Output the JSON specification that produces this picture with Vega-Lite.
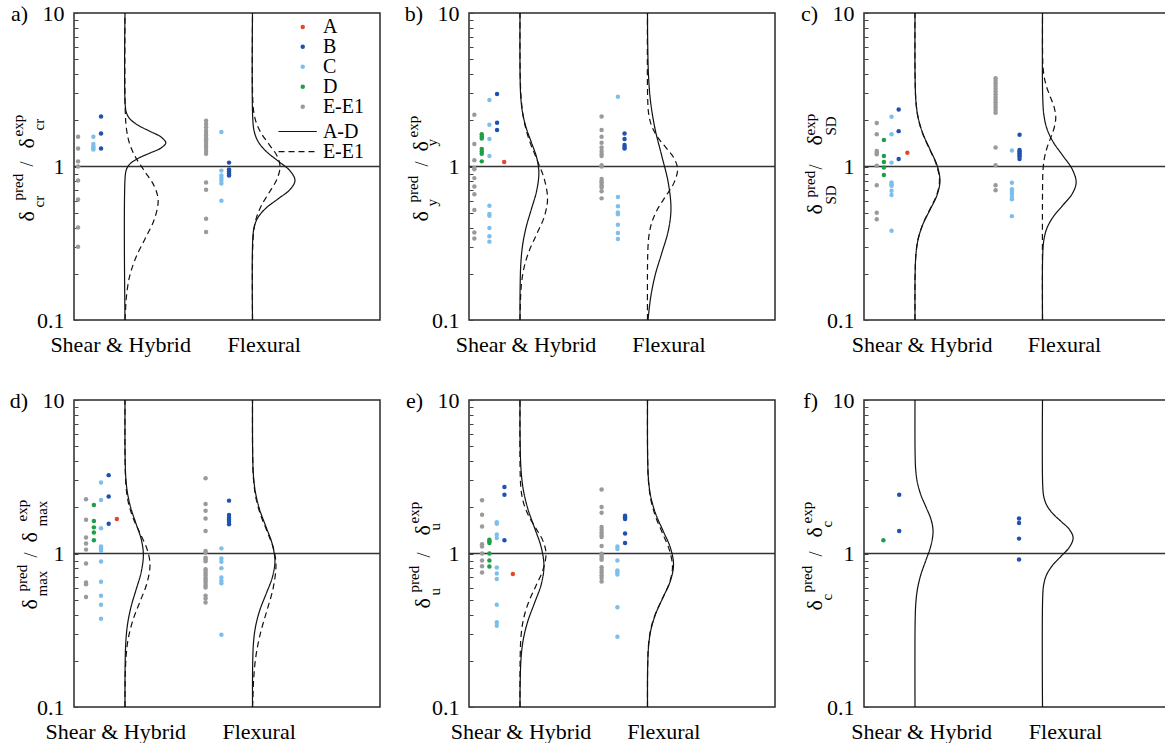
{
"$schema": "https://vega.github.io/schema/vega-lite/v6.json",
"padding": {"left": 8, "top": 1, "right": 0, "bottom": 0},
"config": {
 "font": "Liberation Serif",
 "view": {"stroke": "#2a2a2a", "strokeWidth": 1.5},
 "axis": {"labelFont": "Liberation Serif", "labelFontSize": 22, "labelColor": "#000", "domain": false, "grid": false, "labelFlush": false, "labelOverlap": false},
 "axisX": {"ticks": false, "labelPadding": 14},
 "axisY": {"tickSize": -4, "tickColor": "#444", "labelPadding": 14},
 "style": {
  "guide-label": {"font": "Liberation Serif", "fontSize": 22, "fill": "#000"},
  "tt": {"angle": 270, "align": "left", "baseline": "alphabetic", "fontSize": 22, "fill": "#000", "font": "Liberation Serif"},
  "ts": {"angle": 270, "align": "left", "baseline": "alphabetic", "fontSize": 15, "fill": "#000", "font": "Liberation Serif"},
  "lt": {"align": "right", "baseline": "alphabetic", "fontSize": 22, "fill": "#000", "font": "Liberation Serif"},
  "lg": {"align": "left", "baseline": "middle", "fontSize": 20, "fill": "#000", "font": "Liberation Serif"}
 }
},
"datasets": {
 "pts": [
  {"p":"a","g":"E","x":0.08,"y":1.56},{"p":"a","g":"E","x":0.08,"y":1.31},{"p":"a","g":"E","x":0.08,"y":1.08},{"p":"a","g":"E","x":0.08,"y":1.0},{"p":"a","g":"E","x":0.08,"y":0.81},{"p":"a","g":"E","x":0.08,"y":0.61},{"p":"a","g":"E","x":0.08,"y":0.40},{"p":"a","g":"E","x":0.08,"y":0.30},
  {"p":"a","g":"C","x":0.38,"y":1.56},{"p":"a","g":"C","x":0.38,"y":1.40},{"p":"a","g":"C","x":0.38,"y":1.35},{"p":"a","g":"C","x":0.38,"y":1.32},{"p":"a","g":"C","x":0.38,"y":1.29},
  {"p":"a","g":"B","x":0.53,"y":2.12},{"p":"a","g":"B","x":0.53,"y":1.64},{"p":"a","g":"B","x":0.53,"y":1.31},
  {"p":"a","g":"E","x":2.59,"y":1.99},{"p":"a","g":"E","x":2.59,"y":1.89},{"p":"a","g":"E","x":2.59,"y":1.80},{"p":"a","g":"E","x":2.59,"y":1.71},{"p":"a","g":"E","x":2.59,"y":1.65},{"p":"a","g":"E","x":2.59,"y":1.59},{"p":"a","g":"E","x":2.59,"y":1.53},{"p":"a","g":"E","x":2.59,"y":1.48},{"p":"a","g":"E","x":2.59,"y":1.43},{"p":"a","g":"E","x":2.59,"y":1.37},{"p":"a","g":"E","x":2.59,"y":1.32},{"p":"a","g":"E","x":2.59,"y":1.26},{"p":"a","g":"E","x":2.59,"y":1.21},{"p":"a","g":"E","x":2.59,"y":0.787},{"p":"a","g":"E","x":2.59,"y":0.705},{"p":"a","g":"E","x":2.59,"y":0.457},{"p":"a","g":"E","x":2.59,"y":0.374},
  {"p":"a","g":"C","x":2.89,"y":1.68},{"p":"a","g":"C","x":2.89,"y":0.94},{"p":"a","g":"C","x":2.89,"y":0.874},{"p":"a","g":"C","x":2.89,"y":0.84},{"p":"a","g":"C","x":2.89,"y":0.81},{"p":"a","g":"C","x":2.89,"y":0.776},{"p":"a","g":"C","x":2.89,"y":0.598},
  {"p":"a","g":"B","x":3.04,"y":1.06},{"p":"a","g":"B","x":3.04,"y":0.956},{"p":"a","g":"B","x":3.04,"y":0.928},{"p":"a","g":"B","x":3.04,"y":0.90},{"p":"a","g":"B","x":3.04,"y":0.874},

  {"p":"b","g":"E","x":0.105,"y":2.17},{"p":"b","g":"E","x":0.105,"y":1.40},{"p":"b","g":"E","x":0.105,"y":1.10},{"p":"b","g":"E","x":0.105,"y":0.98},{"p":"b","g":"E","x":0.105,"y":0.96},{"p":"b","g":"E","x":0.105,"y":0.84},{"p":"b","g":"E","x":0.105,"y":0.74},{"p":"b","g":"E","x":0.105,"y":0.66},{"p":"b","g":"E","x":0.105,"y":0.52},{"p":"b","g":"E","x":0.105,"y":0.372},{"p":"b","g":"E","x":0.105,"y":0.34},
  {"p":"b","g":"D","x":0.25,"y":1.62},{"p":"b","g":"D","x":0.25,"y":1.57},{"p":"b","g":"D","x":0.25,"y":1.52},{"p":"b","g":"D","x":0.25,"y":1.30},{"p":"b","g":"D","x":0.25,"y":1.25},{"p":"b","g":"D","x":0.25,"y":1.21},{"p":"b","g":"D","x":0.25,"y":1.08},
  {"p":"b","g":"C","x":0.40,"y":2.71},{"p":"b","g":"C","x":0.40,"y":1.87},{"p":"b","g":"C","x":0.40,"y":1.51},{"p":"b","g":"C","x":0.40,"y":1.17},{"p":"b","g":"C","x":0.40,"y":0.555},{"p":"b","g":"C","x":0.40,"y":0.49},{"p":"b","g":"C","x":0.40,"y":0.478},{"p":"b","g":"C","x":0.40,"y":0.397},{"p":"b","g":"C","x":0.40,"y":0.351},{"p":"b","g":"C","x":0.40,"y":0.324},
  {"p":"b","g":"B","x":0.55,"y":2.97},{"p":"b","g":"B","x":0.55,"y":1.93},{"p":"b","g":"B","x":0.55,"y":1.73},
  {"p":"b","g":"A","x":0.69,"y":1.07},
  {"p":"b","g":"E","x":2.60,"y":2.12},{"p":"b","g":"E","x":2.60,"y":1.73},{"p":"b","g":"E","x":2.60,"y":1.56},{"p":"b","g":"E","x":2.60,"y":1.43},{"p":"b","g":"E","x":2.60,"y":1.33},{"p":"b","g":"E","x":2.60,"y":1.26},{"p":"b","g":"E","x":2.60,"y":1.21},{"p":"b","g":"E","x":2.60,"y":1.17},{"p":"b","g":"E","x":2.60,"y":1.02},{"p":"b","g":"E","x":2.60,"y":1.0},{"p":"b","g":"E","x":2.60,"y":0.83},{"p":"b","g":"E","x":2.60,"y":0.80},{"p":"b","g":"E","x":2.60,"y":0.78},{"p":"b","g":"E","x":2.60,"y":0.756},{"p":"b","g":"E","x":2.60,"y":0.73},{"p":"b","g":"E","x":2.60,"y":0.69},{"p":"b","g":"E","x":2.60,"y":0.62},
  {"p":"b","g":"C","x":2.92,"y":2.85},{"p":"b","g":"C","x":2.92,"y":0.632},{"p":"b","g":"C","x":2.92,"y":0.55},{"p":"b","g":"C","x":2.92,"y":0.502},{"p":"b","g":"C","x":2.92,"y":0.488},{"p":"b","g":"C","x":2.92,"y":0.418},{"p":"b","g":"C","x":2.92,"y":0.369},{"p":"b","g":"C","x":2.92,"y":0.337},
  {"p":"b","g":"B","x":3.05,"y":1.64},{"p":"b","g":"B","x":3.05,"y":1.51},{"p":"b","g":"B","x":3.05,"y":1.38},{"p":"b","g":"B","x":3.05,"y":1.34},{"p":"b","g":"B","x":3.05,"y":1.31},

  {"p":"c","g":"E","x":0.25,"y":1.92},{"p":"c","g":"E","x":0.25,"y":1.62},{"p":"c","g":"E","x":0.25,"y":1.26},{"p":"c","g":"E","x":0.25,"y":1.23},{"p":"c","g":"E","x":0.25,"y":1.20},{"p":"c","g":"E","x":0.25,"y":1.01},{"p":"c","g":"E","x":0.25,"y":0.756},{"p":"c","g":"E","x":0.25,"y":0.50},{"p":"c","g":"E","x":0.25,"y":0.454},
  {"p":"c","g":"D","x":0.39,"y":1.49},{"p":"c","g":"D","x":0.39,"y":1.17},{"p":"c","g":"D","x":0.39,"y":1.07},{"p":"c","g":"D","x":0.39,"y":0.985},{"p":"c","g":"D","x":0.39,"y":0.88},
  {"p":"c","g":"C","x":0.54,"y":2.11},{"p":"c","g":"C","x":0.54,"y":1.62},{"p":"c","g":"C","x":0.54,"y":1.06},{"p":"c","g":"C","x":0.54,"y":0.787},{"p":"c","g":"C","x":0.54,"y":0.767},{"p":"c","g":"C","x":0.54,"y":0.748},{"p":"c","g":"C","x":0.54,"y":0.694},{"p":"c","g":"C","x":0.54,"y":0.653},{"p":"c","g":"C","x":0.54,"y":0.381},
  {"p":"c","g":"B","x":0.68,"y":2.35},{"p":"c","g":"B","x":0.68,"y":1.70},{"p":"c","g":"B","x":0.68,"y":1.12},
  {"p":"c","g":"A","x":0.85,"y":1.23},
  {"p":"c","g":"E","x":2.58,"y":3.76},{"p":"c","g":"E","x":2.58,"y":3.61},{"p":"c","g":"E","x":2.58,"y":3.47},{"p":"c","g":"E","x":2.58,"y":3.34},{"p":"c","g":"E","x":2.58,"y":3.21},{"p":"c","g":"E","x":2.58,"y":3.08},{"p":"c","g":"E","x":2.58,"y":2.96},{"p":"c","g":"E","x":2.58,"y":2.84},{"p":"c","g":"E","x":2.58,"y":2.73},{"p":"c","g":"E","x":2.58,"y":2.62},{"p":"c","g":"E","x":2.58,"y":2.52},{"p":"c","g":"E","x":2.58,"y":2.42},{"p":"c","g":"E","x":2.58,"y":2.33},{"p":"c","g":"E","x":2.58,"y":2.24},{"p":"c","g":"E","x":2.58,"y":1.33},{"p":"c","g":"E","x":2.58,"y":1.02},{"p":"c","g":"E","x":2.58,"y":0.756},{"p":"c","g":"E","x":2.58,"y":0.70},
  {"p":"c","g":"C","x":2.90,"y":1.27},{"p":"c","g":"C","x":2.90,"y":0.783},{"p":"c","g":"C","x":2.90,"y":0.711},{"p":"c","g":"C","x":2.90,"y":0.684},{"p":"c","g":"C","x":2.90,"y":0.661},{"p":"c","g":"C","x":2.90,"y":0.634},{"p":"c","g":"C","x":2.90,"y":0.612},{"p":"c","g":"C","x":2.90,"y":0.475},
  {"p":"c","g":"B","x":3.05,"y":1.61},{"p":"c","g":"B","x":3.05,"y":1.28},{"p":"c","g":"B","x":3.05,"y":1.25},{"p":"c","g":"B","x":3.05,"y":1.22},{"p":"c","g":"B","x":3.05,"y":1.19},{"p":"c","g":"B","x":3.05,"y":1.16},{"p":"c","g":"B","x":3.05,"y":1.12},

  {"p":"d","g":"E","x":0.236,"y":2.26},{"p":"d","g":"E","x":0.236,"y":1.66},{"p":"d","g":"E","x":0.236,"y":1.27},{"p":"d","g":"E","x":0.236,"y":1.16},{"p":"d","g":"E","x":0.236,"y":1.06},{"p":"d","g":"E","x":0.236,"y":0.86},{"p":"d","g":"E","x":0.236,"y":0.647},{"p":"d","g":"E","x":0.236,"y":0.631},{"p":"d","g":"E","x":0.236,"y":0.52},
  {"p":"d","g":"D","x":0.39,"y":2.07},{"p":"d","g":"D","x":0.39,"y":1.63},{"p":"d","g":"D","x":0.39,"y":1.48},{"p":"d","g":"D","x":0.39,"y":1.37},{"p":"d","g":"D","x":0.39,"y":1.22},
  {"p":"d","g":"C","x":0.53,"y":2.90},{"p":"d","g":"C","x":0.53,"y":2.23},{"p":"d","g":"C","x":0.53,"y":1.46},{"p":"d","g":"C","x":0.53,"y":1.11},{"p":"d","g":"C","x":0.53,"y":1.08},{"p":"d","g":"C","x":0.53,"y":1.04},{"p":"d","g":"C","x":0.53,"y":0.887},{"p":"d","g":"C","x":0.53,"y":0.654},{"p":"d","g":"C","x":0.53,"y":0.53},{"p":"d","g":"C","x":0.53,"y":0.463},{"p":"d","g":"C","x":0.53,"y":0.376},
  {"p":"d","g":"B","x":0.68,"y":3.24},{"p":"d","g":"B","x":0.68,"y":2.35},{"p":"d","g":"B","x":0.68,"y":1.56},
  {"p":"d","g":"A","x":0.84,"y":1.68},
  {"p":"d","g":"E","x":2.58,"y":3.09},{"p":"d","g":"E","x":2.58,"y":2.10},{"p":"d","g":"E","x":2.58,"y":1.90},{"p":"d","g":"E","x":2.58,"y":1.69},{"p":"d","g":"E","x":2.58,"y":1.40},{"p":"d","g":"E","x":2.58,"y":1.04},{"p":"d","g":"E","x":2.58,"y":1.015},{"p":"d","g":"E","x":2.58,"y":0.94},{"p":"d","g":"E","x":2.58,"y":0.918},{"p":"d","g":"E","x":2.58,"y":0.89},{"p":"d","g":"E","x":2.58,"y":0.79},{"p":"d","g":"E","x":2.58,"y":0.764},{"p":"d","g":"E","x":2.58,"y":0.738},{"p":"d","g":"E","x":2.58,"y":0.716},{"p":"d","g":"E","x":2.58,"y":0.69},{"p":"d","g":"E","x":2.58,"y":0.667},{"p":"d","g":"E","x":2.58,"y":0.644},{"p":"d","g":"E","x":2.58,"y":0.622},{"p":"d","g":"E","x":2.58,"y":0.601},{"p":"d","g":"E","x":2.58,"y":0.53},{"p":"d","g":"E","x":2.58,"y":0.509},{"p":"d","g":"E","x":2.58,"y":0.48},
  {"p":"d","g":"C","x":2.89,"y":1.08},{"p":"d","g":"C","x":2.89,"y":0.928},{"p":"d","g":"C","x":2.89,"y":0.883},{"p":"d","g":"C","x":2.89,"y":0.803},{"p":"d","g":"C","x":2.89,"y":0.698},{"p":"d","g":"C","x":2.89,"y":0.664},{"p":"d","g":"C","x":2.89,"y":0.641},{"p":"d","g":"C","x":2.89,"y":0.296},
  {"p":"d","g":"B","x":3.04,"y":2.21},{"p":"d","g":"B","x":3.04,"y":1.78},{"p":"d","g":"B","x":3.04,"y":1.71},{"p":"d","g":"B","x":3.04,"y":1.66},{"p":"d","g":"B","x":3.04,"y":1.61},{"p":"d","g":"B","x":3.04,"y":1.55},

  {"p":"e","g":"E","x":0.256,"y":2.22},{"p":"e","g":"E","x":0.256,"y":1.79},{"p":"e","g":"E","x":0.256,"y":1.50},{"p":"e","g":"E","x":0.256,"y":1.15},{"p":"e","g":"E","x":0.256,"y":1.11},{"p":"e","g":"E","x":0.256,"y":1.0},{"p":"e","g":"E","x":0.256,"y":0.90},{"p":"e","g":"E","x":0.256,"y":0.826},{"p":"e","g":"E","x":0.256,"y":0.751},
  {"p":"e","g":"D","x":0.40,"y":1.23},{"p":"e","g":"D","x":0.40,"y":1.20},{"p":"e","g":"D","x":0.40,"y":1.17},{"p":"e","g":"D","x":0.40,"y":1.0},{"p":"e","g":"D","x":0.40,"y":0.90},{"p":"e","g":"D","x":0.40,"y":0.822},
  {"p":"e","g":"C","x":0.545,"y":1.60},{"p":"e","g":"C","x":0.545,"y":1.56},{"p":"e","g":"C","x":0.545,"y":1.33},{"p":"e","g":"C","x":0.545,"y":1.26},{"p":"e","g":"C","x":0.545,"y":0.81},{"p":"e","g":"C","x":0.545,"y":0.74},{"p":"e","g":"C","x":0.545,"y":0.683},{"p":"e","g":"C","x":0.545,"y":0.464},{"p":"e","g":"C","x":0.545,"y":0.356},{"p":"e","g":"C","x":0.545,"y":0.338},
  {"p":"e","g":"B","x":0.695,"y":2.71},{"p":"e","g":"B","x":0.695,"y":2.41},{"p":"e","g":"B","x":0.695,"y":1.22},
  {"p":"e","g":"A","x":0.86,"y":0.736},
  {"p":"e","g":"E","x":2.60,"y":2.61},{"p":"e","g":"E","x":2.60,"y":2.01},{"p":"e","g":"E","x":2.60,"y":1.84},{"p":"e","g":"E","x":2.60,"y":1.49},{"p":"e","g":"E","x":2.60,"y":1.43},{"p":"e","g":"E","x":2.60,"y":1.37},{"p":"e","g":"E","x":2.60,"y":1.32},{"p":"e","g":"E","x":2.60,"y":1.28},{"p":"e","g":"E","x":2.60,"y":1.12},{"p":"e","g":"E","x":2.60,"y":0.995},{"p":"e","g":"E","x":2.60,"y":0.966},{"p":"e","g":"E","x":2.60,"y":0.937},{"p":"e","g":"E","x":2.60,"y":0.91},{"p":"e","g":"E","x":2.60,"y":0.814},{"p":"e","g":"E","x":2.60,"y":0.782},{"p":"e","g":"E","x":2.60,"y":0.751},{"p":"e","g":"E","x":2.60,"y":0.718},{"p":"e","g":"E","x":2.60,"y":0.693},{"p":"e","g":"E","x":2.60,"y":0.656},
  {"p":"e","g":"C","x":2.91,"y":1.11},{"p":"e","g":"C","x":2.91,"y":1.07},{"p":"e","g":"C","x":2.91,"y":0.90},{"p":"e","g":"C","x":2.91,"y":0.774},{"p":"e","g":"C","x":2.91,"y":0.755},{"p":"e","g":"C","x":2.91,"y":0.729},{"p":"e","g":"C","x":2.91,"y":0.446},{"p":"e","g":"C","x":2.91,"y":0.287},
  {"p":"e","g":"B","x":3.06,"y":1.76},{"p":"e","g":"B","x":3.06,"y":1.72},{"p":"e","g":"B","x":3.06,"y":1.68},{"p":"e","g":"B","x":3.06,"y":1.35},{"p":"e","g":"B","x":3.06,"y":1.17},

  {"p":"f","g":"D","x":0.38,"y":1.22},
  {"p":"f","g":"B","x":0.69,"y":2.41},{"p":"f","g":"B","x":0.69,"y":1.40},
  {"p":"f","g":"B","x":3.04,"y":1.69},{"p":"f","g":"B","x":3.04,"y":1.58},{"p":"f","g":"B","x":3.04,"y":1.25},{"p":"f","g":"B","x":3.04,"y":0.914}
 ],
 "crv": [
  {"p":"a","c":"AD","s":"S","x":1,"y":0.1},{"p":"a","c":"AD","s":"S","x":1.005,"y":0.871},{"p":"a","c":"AD","s":"S","x":1.035,"y":0.969},{"p":"a","c":"AD","s":"S","x":1.108,"y":1.047},{"p":"a","c":"AD","s":"S","x":1.26,"y":1.131},{"p":"a","c":"AD","s":"S","x":1.485,"y":1.222},{"p":"a","c":"AD","s":"S","x":1.706,"y":1.32},{"p":"a","c":"AD","s":"S","x":1.8,"y":1.426},{"p":"a","c":"AD","s":"S","x":1.706,"y":1.556},{"p":"a","c":"AD","s":"S","x":1.485,"y":1.698},{"p":"a","c":"AD","s":"S","x":1.26,"y":1.854},{"p":"a","c":"AD","s":"S","x":1.108,"y":2.023},{"p":"a","c":"AD","s":"S","x":1.035,"y":2.208},{"p":"a","c":"AD","s":"S","x":1.005,"y":2.495},{"p":"a","c":"AD","s":"S","x":1,"y":10},
  {"p":"a","c":"E","s":"S","x":1,"y":0.1},{"p":"a","c":"E","s":"S","x":1.013,"y":0.1208},{"p":"a","c":"E","s":"S","x":1.029,"y":0.1434},{"p":"a","c":"E","s":"S","x":1.088,"y":0.191},{"p":"a","c":"E","s":"S","x":1.211,"y":0.2543},{"p":"a","c":"E","s":"S","x":1.394,"y":0.3388},{"p":"a","c":"E","s":"S","x":1.574,"y":0.4513},{"p":"a","c":"E","s":"S","x":1.65,"y":0.6012},{"p":"a","c":"E","s":"S","x":1.574,"y":0.7447},{"p":"a","c":"E","s":"S","x":1.394,"y":0.9226},{"p":"a","c":"E","s":"S","x":1.211,"y":1.143},{"p":"a","c":"E","s":"S","x":1.088,"y":1.416},{"p":"a","c":"E","s":"S","x":1.029,"y":1.754},{"p":"a","c":"E","s":"S","x":1.004,"y":2.366},{"p":"a","c":"E","s":"S","x":1,"y":10},
  {"p":"a","c":"AD","s":"F","x":3.5,"y":0.1},{"p":"a","c":"AD","s":"F","x":3.505,"y":0.3373},{"p":"a","c":"AD","s":"F","x":3.537,"y":0.4088},{"p":"a","c":"AD","s":"F","x":3.613,"y":0.4688},{"p":"a","c":"AD","s":"F","x":3.77,"y":0.5377},{"p":"a","c":"AD","s":"F","x":4.005,"y":0.6166},{"p":"a","c":"AD","s":"F","x":4.235,"y":0.7071},{"p":"a","c":"AD","s":"F","x":4.333,"y":0.811},{"p":"a","c":"AD","s":"F","x":4.235,"y":0.9376},{"p":"a","c":"AD","s":"F","x":4.005,"y":1.0839},{"p":"a","c":"AD","s":"F","x":3.77,"y":1.2531},{"p":"a","c":"AD","s":"F","x":3.613,"y":1.4488},{"p":"a","c":"AD","s":"F","x":3.537,"y":1.6749},{"p":"a","c":"AD","s":"F","x":3.505,"y":2.052},{"p":"a","c":"AD","s":"F","x":3.5,"y":10},
  {"p":"a","c":"E","s":"F","x":3.5,"y":0.1},{"p":"a","c":"E","s":"F","x":3.503,"y":0.2877},{"p":"a","c":"E","s":"F","x":3.524,"y":0.378},{"p":"a","c":"E","s":"F","x":3.573,"y":0.4592},{"p":"a","c":"E","s":"F","x":3.675,"y":0.5577},{"p":"a","c":"E","s":"F","x":3.828,"y":0.6776},{"p":"a","c":"E","s":"F","x":3.977,"y":0.8233},{"p":"a","c":"E","s":"F","x":4.04,"y":1.0},{"p":"a","c":"E","s":"F","x":3.977,"y":1.179},{"p":"a","c":"E","s":"F","x":3.828,"y":1.39},{"p":"a","c":"E","s":"F","x":3.675,"y":1.639},{"p":"a","c":"E","s":"F","x":3.573,"y":1.932},{"p":"a","c":"E","s":"F","x":3.524,"y":2.278},{"p":"a","c":"E","s":"F","x":3.503,"y":2.869},{"p":"a","c":"E","s":"F","x":3.5,"y":10},

  {"p":"b","c":"AD","s":"S","x":1,"y":0.1},{"p":"b","c":"AD","s":"S","x":1.002,"y":0.1582},{"p":"b","c":"AD","s":"S","x":1.016,"y":0.2323},{"p":"b","c":"AD","s":"S","x":1.05,"y":0.3055},{"p":"b","c":"AD","s":"S","x":1.12,"y":0.4018},{"p":"b","c":"AD","s":"S","x":1.224,"y":0.5284},{"p":"b","c":"AD","s":"S","x":1.327,"y":0.695},{"p":"b","c":"AD","s":"S","x":1.37,"y":0.9141},{"p":"b","c":"AD","s":"S","x":1.327,"y":1.1442},{"p":"b","c":"AD","s":"S","x":1.224,"y":1.4322},{"p":"b","c":"AD","s":"S","x":1.12,"y":1.7927},{"p":"b","c":"AD","s":"S","x":1.05,"y":2.2439},{"p":"b","c":"AD","s":"S","x":1.016,"y":2.8093},{"p":"b","c":"AD","s":"S","x":1.002,"y":3.846},{"p":"b","c":"AD","s":"S","x":1,"y":10},
  {"p":"b","c":"E","s":"S","x":1,"y":0.1},{"p":"b","c":"E","s":"S","x":1.003,"y":0.1144},{"p":"b","c":"E","s":"S","x":1.024,"y":0.1652},{"p":"b","c":"E","s":"S","x":1.073,"y":0.2148},{"p":"b","c":"E","s":"S","x":1.175,"y":0.2793},{"p":"b","c":"E","s":"S","x":1.328,"y":0.3631},{"p":"b","c":"E","s":"S","x":1.477,"y":0.4721},{"p":"b","c":"E","s":"S","x":1.54,"y":0.6138},{"p":"b","c":"E","s":"S","x":1.477,"y":0.8279},{"p":"b","c":"E","s":"S","x":1.328,"y":1.1169},{"p":"b","c":"E","s":"S","x":1.175,"y":1.5066},{"p":"b","c":"E","s":"S","x":1.073,"y":2.0324},{"p":"b","c":"E","s":"S","x":1.024,"y":2.7416},{"p":"b","c":"E","s":"S","x":1.003,"y":4.169},{"p":"b","c":"E","s":"S","x":1,"y":10},
  {"p":"b","c":"AD","s":"F","x":3.51,"y":0.1},{"p":"b","c":"AD","s":"F","x":3.562,"y":0.1403},{"p":"b","c":"AD","s":"F","x":3.649,"y":0.1954},{"p":"b","c":"AD","s":"F","x":3.779,"y":0.2723},{"p":"b","c":"AD","s":"F","x":3.906,"y":0.3793},{"p":"b","c":"AD","s":"F","x":3.96,"y":0.5284},{"p":"b","c":"AD","s":"F","x":3.906,"y":0.788},{"p":"b","c":"AD","s":"F","x":3.779,"y":1.1749},{"p":"b","c":"AD","s":"F","x":3.649,"y":1.7518},{"p":"b","c":"AD","s":"F","x":3.562,"y":2.6122},{"p":"b","c":"AD","s":"F","x":3.52,"y":3.895},{"p":"b","c":"AD","s":"F","x":3.503,"y":6.814},{"p":"b","c":"AD","s":"F","x":3.5,"y":10},
  {"p":"b","c":"E","s":"F","x":3.5,"y":0.1},{"p":"b","c":"E","s":"F","x":3.504,"y":0.263},{"p":"b","c":"E","s":"F","x":3.526,"y":0.3491},{"p":"b","c":"E","s":"F","x":3.58,"y":0.4276},{"p":"b","c":"E","s":"F","x":3.692,"y":0.5236},{"p":"b","c":"E","s":"F","x":3.858,"y":0.6412},{"p":"b","c":"E","s":"F","x":4.021,"y":0.7852},{"p":"b","c":"E","s":"F","x":4.09,"y":0.9616},{"p":"b","c":"E","s":"F","x":4.021,"y":1.131},{"p":"b","c":"E","s":"F","x":3.858,"y":1.3305},{"p":"b","c":"E","s":"F","x":3.692,"y":1.5649},{"p":"b","c":"E","s":"F","x":3.58,"y":1.8408},{"p":"b","c":"E","s":"F","x":3.526,"y":2.1652},{"p":"b","c":"E","s":"F","x":3.504,"y":2.718},{"p":"b","c":"E","s":"F","x":3.5,"y":10},

  {"p":"c","c":"AD","s":"S","x":1,"y":0.1},{"p":"c","c":"AD","s":"S","x":1.003,"y":0.2037},{"p":"c","c":"AD","s":"S","x":1.0215,"y":0.2751},{"p":"c","c":"AD","s":"S","x":1.066,"y":0.3412},{"p":"c","c":"AD","s":"S","x":1.159,"y":0.4231},{"p":"c","c":"AD","s":"S","x":1.297,"y":0.5248},{"p":"c","c":"AD","s":"S","x":1.432,"y":0.6508},{"p":"c","c":"AD","s":"S","x":1.49,"y":0.8072},{"p":"c","c":"AD","s":"S","x":1.432,"y":1.0186},{"p":"c","c":"AD","s":"S","x":1.297,"y":1.2853},{"p":"c","c":"AD","s":"S","x":1.159,"y":1.6218},{"p":"c","c":"AD","s":"S","x":1.066,"y":2.0464},{"p":"c","c":"AD","s":"S","x":1.0215,"y":2.5823},{"p":"c","c":"AD","s":"S","x":1.003,"y":3.575},{"p":"c","c":"AD","s":"S","x":1,"y":10},
  {"p":"c","c":"E","s":"S","x":1,"y":0.1},{"p":"c","c":"E","s":"S","x":1.003,"y":0.2037},{"p":"c","c":"E","s":"S","x":1.021,"y":0.2751},{"p":"c","c":"E","s":"S","x":1.065,"y":0.3412},{"p":"c","c":"E","s":"S","x":1.156,"y":0.4231},{"p":"c","c":"E","s":"S","x":1.291,"y":0.5248},{"p":"c","c":"E","s":"S","x":1.424,"y":0.6508},{"p":"c","c":"E","s":"S","x":1.48,"y":0.8072},{"p":"c","c":"E","s":"S","x":1.424,"y":1.0186},{"p":"c","c":"E","s":"S","x":1.291,"y":1.2853},{"p":"c","c":"E","s":"S","x":1.156,"y":1.6218},{"p":"c","c":"E","s":"S","x":1.065,"y":2.0464},{"p":"c","c":"E","s":"S","x":1.021,"y":2.5823},{"p":"c","c":"E","s":"S","x":1.003,"y":3.575},{"p":"c","c":"E","s":"S","x":1,"y":10},
  {"p":"c","c":"AD","s":"F","x":3.5,"y":0.1},{"p":"c","c":"AD","s":"F","x":3.504,"y":0.2645},{"p":"c","c":"AD","s":"F","x":3.529,"y":0.3357},{"p":"c","c":"AD","s":"F","x":3.589,"y":0.3981},{"p":"c","c":"AD","s":"F","x":3.714,"y":0.4721},{"p":"c","c":"AD","s":"F","x":3.9,"y":0.5598},{"p":"c","c":"AD","s":"F","x":4.082,"y":0.6637},{"p":"c","c":"AD","s":"F","x":4.16,"y":0.787},{"p":"c","c":"AD","s":"F","x":4.082,"y":0.9616},{"p":"c","c":"AD","s":"F","x":3.9,"y":1.1749},{"p":"c","c":"AD","s":"F","x":3.714,"y":1.4355},{"p":"c","c":"AD","s":"F","x":3.589,"y":1.7539},{"p":"c","c":"AD","s":"F","x":3.529,"y":2.1429},{"p":"c","c":"AD","s":"F","x":3.504,"y":2.837},{"p":"c","c":"AD","s":"F","x":3.5,"y":10},
  {"p":"c","c":"E","s":"F","x":3.5,"y":0.1},{"p":"c","c":"E","s":"F","x":3.502,"y":0.7727},{"p":"c","c":"E","s":"F","x":3.511,"y":0.9605},{"p":"c","c":"E","s":"F","x":3.535,"y":1.122},{"p":"c","c":"E","s":"F","x":3.584,"y":1.3106},{"p":"c","c":"E","s":"F","x":3.658,"y":1.5311},{"p":"c","c":"E","s":"F","x":3.729,"y":1.7886},{"p":"c","c":"E","s":"F","x":3.76,"y":2.0893},{"p":"c","c":"E","s":"F","x":3.729,"y":2.4266},{"p":"c","c":"E","s":"F","x":3.658,"y":2.8184},{"p":"c","c":"E","s":"F","x":3.584,"y":3.2734},{"p":"c","c":"E","s":"F","x":3.535,"y":3.8019},{"p":"c","c":"E","s":"F","x":3.511,"y":4.4157},{"p":"c","c":"E","s":"F","x":3.502,"y":5.445},{"p":"c","c":"E","s":"F","x":3.5,"y":10},

  {"p":"d","c":"AD","s":"S","x":1,"y":0.1},{"p":"d","c":"AD","s":"S","x":1.002,"y":0.1834},{"p":"d","c":"AD","s":"S","x":1.016,"y":0.2649},{"p":"d","c":"AD","s":"S","x":1.049,"y":0.3443},{"p":"d","c":"AD","s":"S","x":1.117,"y":0.4477},{"p":"d","c":"AD","s":"S","x":1.218,"y":0.5821},{"p":"d","c":"AD","s":"S","x":1.318,"y":0.7568},{"p":"d","c":"AD","s":"S","x":1.36,"y":0.984},{"p":"d","c":"AD","s":"S","x":1.318,"y":1.2388},{"p":"d","c":"AD","s":"S","x":1.218,"y":1.5596},{"p":"d","c":"AD","s":"S","x":1.117,"y":1.9634},{"p":"d","c":"AD","s":"S","x":1.049,"y":2.4717},{"p":"d","c":"AD","s":"S","x":1.016,"y":3.1117},{"p":"d","c":"AD","s":"S","x":1.002,"y":4.295},{"p":"d","c":"AD","s":"S","x":1,"y":10},
  {"p":"d","c":"E","s":"S","x":1,"y":0.1},{"p":"d","c":"E","s":"S","x":1.003,"y":0.1455},{"p":"d","c":"E","s":"S","x":1.0215,"y":0.214},{"p":"d","c":"E","s":"S","x":1.066,"y":0.2818},{"p":"d","c":"E","s":"S","x":1.159,"y":0.3711},{"p":"d","c":"E","s":"S","x":1.297,"y":0.4887},{"p":"d","c":"E","s":"S","x":1.432,"y":0.6433},{"p":"d","c":"E","s":"S","x":1.49,"y":0.8472},{"p":"d","c":"E","s":"S","x":1.432,"y":1.0691},{"p":"d","c":"E","s":"S","x":1.297,"y":1.349},{"p":"d","c":"E","s":"S","x":1.159,"y":1.7022},{"p":"d","c":"E","s":"S","x":1.066,"y":2.1478},{"p":"d","c":"E","s":"S","x":1.0215,"y":2.7101},{"p":"d","c":"E","s":"S","x":1.003,"y":3.753},{"p":"d","c":"E","s":"S","x":1,"y":10},
  {"p":"d","c":"AD","s":"F","x":3.5,"y":0.1},{"p":"d","c":"AD","s":"F","x":3.503,"y":0.1855},{"p":"d","c":"AD","s":"F","x":3.519,"y":0.2615},{"p":"d","c":"AD","s":"F","x":3.56,"y":0.3342},{"p":"d","c":"AD","s":"F","x":3.643,"y":0.4271},{"p":"d","c":"AD","s":"F","x":3.767,"y":0.5458},{"p":"d","c":"AD","s":"F","x":3.888,"y":0.6972},{"p":"d","c":"AD","s":"F","x":3.94,"y":0.8913},{"p":"d","c":"AD","s":"F","x":3.888,"y":1.1508},{"p":"d","c":"AD","s":"F","x":3.767,"y":1.4859},{"p":"d","c":"AD","s":"F","x":3.643,"y":1.9187},{"p":"d","c":"AD","s":"F","x":3.56,"y":2.4774},{"p":"d","c":"AD","s":"F","x":3.519,"y":3.1989},{"p":"d","c":"AD","s":"F","x":3.503,"y":4.575},{"p":"d","c":"AD","s":"F","x":3.5,"y":10},
  {"p":"d","c":"E","s":"F","x":3.5,"y":0.1},{"p":"d","c":"E","s":"F","x":3.507,"y":0.1113},{"p":"d","c":"E","s":"F","x":3.52,"y":0.1472},{"p":"d","c":"E","s":"F","x":3.562,"y":0.2089},{"p":"d","c":"E","s":"F","x":3.649,"y":0.2965},{"p":"d","c":"E","s":"F","x":3.779,"y":0.4207},{"p":"d","c":"E","s":"F","x":3.906,"y":0.597},{"p":"d","c":"E","s":"F","x":3.96,"y":0.8472},{"p":"d","c":"E","s":"F","x":3.906,"y":1.094},{"p":"d","c":"E","s":"F","x":3.779,"y":1.4125},{"p":"d","c":"E","s":"F","x":3.649,"y":1.8239},{"p":"d","c":"E","s":"F","x":3.562,"y":2.355},{"p":"d","c":"E","s":"F","x":3.52,"y":3.0409},{"p":"d","c":"E","s":"F","x":3.503,"y":4.348},{"p":"d","c":"E","s":"F","x":3.5,"y":10},

  {"p":"e","c":"AD","s":"S","x":1,"y":0.1},{"p":"e","c":"AD","s":"S","x":1.003,"y":0.1419},{"p":"e","c":"AD","s":"S","x":1.021,"y":0.2087},{"p":"e","c":"AD","s":"S","x":1.064,"y":0.2748},{"p":"e","c":"AD","s":"S","x":1.153,"y":0.3618},{"p":"e","c":"AD","s":"S","x":1.285,"y":0.4764},{"p":"e","c":"AD","s":"S","x":1.415,"y":0.6272},{"p":"e","c":"AD","s":"S","x":1.47,"y":0.826},{"p":"e","c":"AD","s":"S","x":1.415,"y":1.1015},{"p":"e","c":"AD","s":"S","x":1.285,"y":1.4689},{"p":"e","c":"AD","s":"S","x":1.153,"y":1.9588},{"p":"e","c":"AD","s":"S","x":1.064,"y":2.6122},{"p":"e","c":"AD","s":"S","x":1.021,"y":3.4834},{"p":"e","c":"AD","s":"S","x":1.003,"y":5.212},{"p":"e","c":"AD","s":"S","x":1,"y":10},
  {"p":"e","c":"E","s":"S","x":1,"y":0.1},{"p":"e","c":"E","s":"S","x":1.003,"y":0.2082},{"p":"e","c":"E","s":"S","x":1.022,"y":0.2934},{"p":"e","c":"E","s":"S","x":1.069,"y":0.375},{"p":"e","c":"E","s":"S","x":1.166,"y":0.4792},{"p":"e","c":"E","s":"S","x":1.309,"y":0.6124},{"p":"e","c":"E","s":"S","x":1.45,"y":0.7824},{"p":"e","c":"E","s":"S","x":1.51,"y":1.0},{"p":"e","c":"E","s":"S","x":1.45,"y":1.209},{"p":"e","c":"E","s":"S","x":1.309,"y":1.4622},{"p":"e","c":"E","s":"S","x":1.166,"y":1.7681},{"p":"e","c":"E","s":"S","x":1.069,"y":2.138},{"p":"e","c":"E","s":"S","x":1.022,"y":2.5852},{"p":"e","c":"E","s":"S","x":1.003,"y":3.373},{"p":"e","c":"E","s":"S","x":1,"y":10},
  {"p":"e","c":"AD","s":"F","x":3.5,"y":0.1},{"p":"e","c":"AD","s":"F","x":3.503,"y":0.1791},{"p":"e","c":"AD","s":"F","x":3.522,"y":0.2514},{"p":"e","c":"AD","s":"F","x":3.569,"y":0.3206},{"p":"e","c":"AD","s":"F","x":3.666,"y":0.4088},{"p":"e","c":"AD","s":"F","x":3.809,"y":0.5212},{"p":"e","c":"AD","s":"F","x":3.95,"y":0.6645},{"p":"e","c":"AD","s":"F","x":4.01,"y":0.8472},{"p":"e","c":"AD","s":"F","x":3.95,"y":1.0877},{"p":"e","c":"AD","s":"F","x":3.809,"y":1.3964},{"p":"e","c":"AD","s":"F","x":3.666,"y":1.7927},{"p":"e","c":"AD","s":"F","x":3.569,"y":2.3014},{"p":"e","c":"AD","s":"F","x":3.522,"y":2.9537},{"p":"e","c":"AD","s":"F","x":3.503,"y":4.193},{"p":"e","c":"AD","s":"F","x":3.5,"y":10},
  {"p":"e","c":"E","s":"F","x":3.5,"y":0.1},{"p":"e","c":"E","s":"F","x":3.503,"y":0.1862},{"p":"e","c":"E","s":"F","x":3.5215,"y":0.257},{"p":"e","c":"E","s":"F","x":3.566,"y":0.3236},{"p":"e","c":"E","s":"F","x":3.659,"y":0.4074},{"p":"e","c":"E","s":"F","x":3.797,"y":0.5129},{"p":"e","c":"E","s":"F","x":3.932,"y":0.6457},{"p":"e","c":"E","s":"F","x":3.99,"y":0.8128},{"p":"e","c":"E","s":"F","x":3.932,"y":1.0471},{"p":"e","c":"E","s":"F","x":3.797,"y":1.349},{"p":"e","c":"E","s":"F","x":3.659,"y":1.7378},{"p":"e","c":"E","s":"F","x":3.566,"y":2.2387},{"p":"e","c":"E","s":"F","x":3.5215,"y":2.884},{"p":"e","c":"E","s":"F","x":3.503,"y":4.111},{"p":"e","c":"E","s":"F","x":3.5,"y":10},

  {"p":"f","c":"AD","s":"S","x":1,"y":0.1},{"p":"f","c":"AD","s":"S","x":1.002,"y":0.3475},{"p":"f","c":"AD","s":"S","x":1.0155,"y":0.4716},{"p":"f","c":"AD","s":"S","x":1.048,"y":0.5861},{"p":"f","c":"AD","s":"S","x":1.115,"y":0.7286},{"p":"f","c":"AD","s":"S","x":1.215,"y":0.9057},{"p":"f","c":"AD","s":"S","x":1.312,"y":1.1259},{"p":"f","c":"AD","s":"S","x":1.354,"y":1.3996},{"p":"f","c":"AD","s":"S","x":1.312,"y":1.6768},{"p":"f","c":"AD","s":"S","x":1.215,"y":2.0091},{"p":"f","c":"AD","s":"S","x":1.115,"y":2.4075},{"p":"f","c":"AD","s":"S","x":1.048,"y":2.884},{"p":"f","c":"AD","s":"S","x":1.0155,"y":3.4555},{"p":"f","c":"AD","s":"S","x":1.002,"y":4.449},{"p":"f","c":"AD","s":"S","x":1,"y":10},
  {"p":"f","c":"AD","s":"F","x":3.5,"y":0.1},{"p":"f","c":"AD","s":"F","x":3.504,"y":0.5224},{"p":"f","c":"AD","s":"F","x":3.526,"y":0.6339},{"p":"f","c":"AD","s":"F","x":3.581,"y":0.7278},{"p":"f","c":"AD","s":"F","x":3.695,"y":0.8356},{"p":"f","c":"AD","s":"F","x":3.864,"y":0.9594},{"p":"f","c":"AD","s":"F","x":4.03,"y":1.1015},{"p":"f","c":"AD","s":"F","x":4.1,"y":1.2647},{"p":"f","c":"AD","s":"F","x":4.03,"y":1.4305},{"p":"f","c":"AD","s":"F","x":3.864,"y":1.6181},{"p":"f","c":"AD","s":"F","x":3.695,"y":1.8302},{"p":"f","c":"AD","s":"F","x":3.581,"y":2.0701},{"p":"f","c":"AD","s":"F","x":3.526,"y":2.3417},{"p":"f","c":"AD","s":"F","x":3.504,"y":2.782},{"p":"f","c":"AD","s":"F","x":3.5,"y":10}
 ]
},
"columns": 3,
"spacing": {"row": 80, "column": 89},
"bounds": "flush",
"concat": [
  {"width": 306, "height": 307, "data": {"values": [{}]}, "layer": [
   {"mark": {"type": "rule", "color": "#333", "strokeWidth": 1.3}, "encoding": {"y": {"datum": 1, "type": "quantitative", "scale": {"type": "log", "domain": [0.1, 10], "nice": false}, "axis": {"values": [0.1,0.2,0.3,0.4,0.5,0.6,0.7,0.8,0.9,1,2,3,4,5,6,7,8,9,10], "labelExpr": "datum.value==0.1?'0.1':datum.value==1?'1':datum.value==10?'10':''", "labelFont": "Liberation Serif", "title": null}}}},
   {"data": {"name": "crv"}, "transform": [{"filter": "datum.p=='a'"}], "mark": {"type": "line", "interpolate": "catmull-rom", "strokeWidth": 1.2, "color": "#111"}, "encoding": {"x": {"field": "x", "type": "quantitative", "title": null, "scale": {"domain": [0, 6], "nice": false, "zero": false}, "axis": {"values": [0.905, 3.72], "labelExpr": "datum.value<2?'Shear & Hybrid':'Flexural'", "labelFont": "Liberation Serif", "title": null}}, "y": {"field": "y", "type": "quantitative", "title": null}, "detail": {"field": "s"}, "strokeDash": {"field": "c", "type": "nominal", "scale": {"domain": ["AD", "E"], "range": [[1, 0], [6, 4]]}, "legend": null}, "order": {"field": "y", "type": "quantitative"}}},
   {"data": {"name": "pts"}, "transform": [{"filter": "datum.p=='a'"}], "mark": {"type": "circle", "size": 20, "opacity": 1}, "encoding": {"x": {"field": "x", "type": "quantitative", "title": null}, "y": {"field": "y", "type": "quantitative", "title": null}, "color": {"field": "g", "type": "nominal", "scale": {"domain": ["A","B","C","D","E"], "range": ["#E4462B","#1F52B0","#7DBFEC","#1E9E46","#9A9A9A"]}, "legend": null}}},
   {"mark": {"type": "text", "style": "lt", "text": "a)", "dx": -46, "dy": 8}, "encoding": {"x": {"datum": 0}, "y": {"datum": 10}}},
   {"mark": {"type": "text", "style": "tt", "text": "δ", "dx": -55, "dy": -40}, "encoding": {"x": {"datum": 0}, "y": {"datum": 1}}},
   {"mark": {"type": "text", "style": "ts", "text": "pred", "dx": -34, "dy": -51}, "encoding": {"x": {"datum": 0}, "y": {"datum": 1}}},
   {"mark": {"type": "text", "style": "ts", "text": "cr", "dx": -41, "dy": -30}, "encoding": {"x": {"datum": 0}, "y": {"datum": 1}}},
   {"mark": {"type": "text", "style": "tt", "text": "/", "dx": 0, "dy": -41, "fontSize": 18}, "encoding": {"x": {"datum": 0}, "y": {"datum": 1}}},
   {"mark": {"type": "text", "style": "tt", "text": "δ", "dx": 18, "dy": -40}, "encoding": {"x": {"datum": 0}, "y": {"datum": 1}}},
   {"mark": {"type": "text", "style": "ts", "text": "exp", "dx": 30, "dy": -51}, "encoding": {"x": {"datum": 0}, "y": {"datum": 1}}},
   {"mark": {"type": "text", "style": "ts", "text": "cr", "dx": 36, "dy": -30}, "encoding": {"x": {"datum": 0}, "y": {"datum": 1}}},
   {"mark": {"type": "circle", "size": 20, "opacity": 1, "color": "#E4462B"}, "encoding": {"x": {"datum": 4.485}, "y": {"datum": 8.11}}},
   {"mark": {"type": "circle", "size": 20, "opacity": 1, "color": "#1F52B0"}, "encoding": {"x": {"datum": 4.485}, "y": {"datum": 6.02}}},
   {"mark": {"type": "circle", "size": 20, "opacity": 1, "color": "#7DBFEC"}, "encoding": {"x": {"datum": 4.485}, "y": {"datum": 4.46}}},
   {"mark": {"type": "circle", "size": 20, "opacity": 1, "color": "#1E9E46"}, "encoding": {"x": {"datum": 4.485}, "y": {"datum": 3.31}}},
   {"mark": {"type": "circle", "size": 20, "opacity": 1, "color": "#9A9A9A"}, "encoding": {"x": {"datum": 4.485}, "y": {"datum": 2.45}}},
   {"mark": {"type": "rule", "color": "#111", "strokeWidth": 1.2}, "encoding": {"x": {"datum": 4.01}, "x2": {"datum": 4.76}, "y": {"datum": 1.69}}},
   {"mark": {"type": "rule", "color": "#111", "strokeWidth": 1.2, "strokeDash": [6, 4]}, "encoding": {"x": {"datum": 4.01}, "x2": {"datum": 4.76}, "y": {"datum": 1.25}}},
   {"mark": {"type": "text", "style": "lg", "text": "A"}, "encoding": {"x": {"datum": 4.88}, "y": {"datum": 8.11}}},
   {"mark": {"type": "text", "style": "lg", "text": "B"}, "encoding": {"x": {"datum": 4.88}, "y": {"datum": 6.02}}},
   {"mark": {"type": "text", "style": "lg", "text": "C"}, "encoding": {"x": {"datum": 4.88}, "y": {"datum": 4.46}}},
   {"mark": {"type": "text", "style": "lg", "text": "D"}, "encoding": {"x": {"datum": 4.88}, "y": {"datum": 3.31}}},
   {"mark": {"type": "text", "style": "lg", "text": "E-E1"}, "encoding": {"x": {"datum": 4.88}, "y": {"datum": 2.45}}},
   {"mark": {"type": "text", "style": "lg", "text": "A-D"}, "encoding": {"x": {"datum": 4.88}, "y": {"datum": 1.69}}},
   {"mark": {"type": "text", "style": "lg", "text": "E-E1"}, "encoding": {"x": {"datum": 4.88}, "y": {"datum": 1.25}}}
  ]},
  {"width": 306, "height": 307, "data": {"values": [{}]}, "layer": [
   {"mark": {"type": "rule", "color": "#333", "strokeWidth": 1.3}, "encoding": {"y": {"datum": 1, "type": "quantitative", "scale": {"type": "log", "domain": [0.1, 10], "nice": false}, "axis": {"values": [0.1,0.2,0.3,0.4,0.5,0.6,0.7,0.8,0.9,1,2,3,4,5,6,7,8,9,10], "labelExpr": "datum.value==0.1?'0.1':datum.value==1?'1':datum.value==10?'10':''", "labelFont": "Liberation Serif", "title": null}}}},
   {"data": {"name": "crv"}, "transform": [{"filter": "datum.p=='b'"}], "mark": {"type": "line", "interpolate": "catmull-rom", "strokeWidth": 1.2, "color": "#111"}, "encoding": {"x": {"field": "x", "type": "quantitative", "title": null, "scale": {"domain": [0, 6], "nice": false, "zero": false}, "axis": {"values": [1.11, 3.91], "labelExpr": "datum.value<2?'Shear & Hybrid':'Flexural'", "labelFont": "Liberation Serif", "title": null}}, "y": {"field": "y", "type": "quantitative", "title": null}, "detail": {"field": "s"}, "strokeDash": {"field": "c", "type": "nominal", "scale": {"domain": ["AD", "E"], "range": [[1, 0], [6, 4]]}, "legend": null}, "order": {"field": "y", "type": "quantitative"}}},
   {"data": {"name": "pts"}, "transform": [{"filter": "datum.p=='b'"}], "mark": {"type": "circle", "size": 20, "opacity": 1}, "encoding": {"x": {"field": "x", "type": "quantitative", "title": null}, "y": {"field": "y", "type": "quantitative", "title": null}, "color": {"field": "g", "type": "nominal", "scale": {"domain": ["A","B","C","D","E"], "range": ["#E4462B","#1F52B0","#7DBFEC","#1E9E46","#9A9A9A"]}, "legend": null}}},
   {"mark": {"type": "text", "style": "lt", "text": "b)", "dx": -46, "dy": 8}, "encoding": {"x": {"datum": 0}, "y": {"datum": 10}}},
   {"mark": {"type": "text", "style": "tt", "text": "δ", "dx": -55, "dy": -41}, "encoding": {"x": {"datum": 0}, "y": {"datum": 1}}},
   {"mark": {"type": "text", "style": "ts", "text": "pred", "dx": -36, "dy": -51}, "encoding": {"x": {"datum": 0}, "y": {"datum": 1}}},
   {"mark": {"type": "text", "style": "ts", "text": "y", "dx": -40, "dy": -32}, "encoding": {"x": {"datum": 0}, "y": {"datum": 1}}},
   {"mark": {"type": "text", "style": "tt", "text": "/", "dx": 0, "dy": -41, "fontSize": 18}, "encoding": {"x": {"datum": 0}, "y": {"datum": 1}}},
   {"mark": {"type": "text", "style": "tt", "text": "δ", "dx": 15, "dy": -41}, "encoding": {"x": {"datum": 0}, "y": {"datum": 1}}},
   {"mark": {"type": "text", "style": "ts", "text": "exp", "dx": 29, "dy": -51}, "encoding": {"x": {"datum": 0}, "y": {"datum": 1}}},
   {"mark": {"type": "text", "style": "ts", "text": "y", "dx": 20, "dy": -32}, "encoding": {"x": {"datum": 0}, "y": {"datum": 1}}}
  ]},
  {"width": 306, "height": 307, "data": {"values": [{}]}, "layer": [
   {"mark": {"type": "rule", "color": "#333", "strokeWidth": 1.3}, "encoding": {"y": {"datum": 1, "type": "quantitative", "scale": {"type": "log", "domain": [0.1, 10], "nice": false}, "axis": {"values": [0.1,0.2,0.3,0.4,0.5,0.6,0.7,0.8,0.9,1,2,3,4,5,6,7,8,9,10], "labelExpr": "datum.value==0.1?'0.1':datum.value==1?'1':datum.value==10?'10':''", "labelFont": "Liberation Serif", "title": null}}}},
   {"data": {"name": "crv"}, "transform": [{"filter": "datum.p=='c'"}], "mark": {"type": "line", "interpolate": "catmull-rom", "strokeWidth": 1.2, "color": "#111"}, "encoding": {"x": {"field": "x", "type": "quantitative", "title": null, "scale": {"domain": [0, 6], "nice": false, "zero": false}, "axis": {"values": [1.13, 3.92], "labelExpr": "datum.value<2?'Shear & Hybrid':'Flexural'", "labelFont": "Liberation Serif", "title": null}}, "y": {"field": "y", "type": "quantitative", "title": null}, "detail": {"field": "s"}, "strokeDash": {"field": "c", "type": "nominal", "scale": {"domain": ["AD", "E"], "range": [[1, 0], [6, 4]]}, "legend": null}, "order": {"field": "y", "type": "quantitative"}}},
   {"data": {"name": "pts"}, "transform": [{"filter": "datum.p=='c'"}], "mark": {"type": "circle", "size": 20, "opacity": 1}, "encoding": {"x": {"field": "x", "type": "quantitative", "title": null}, "y": {"field": "y", "type": "quantitative", "title": null}, "color": {"field": "g", "type": "nominal", "scale": {"domain": ["A","B","C","D","E"], "range": ["#E4462B","#1F52B0","#7DBFEC","#1E9E46","#9A9A9A"]}, "legend": null}}},
   {"mark": {"type": "text", "style": "lt", "text": "c)", "dx": -46, "dy": 8}, "encoding": {"x": {"datum": 0}, "y": {"datum": 10}}},
   {"mark": {"type": "text", "style": "tt", "text": "δ", "dx": -48, "dy": -42}, "encoding": {"x": {"datum": 0}, "y": {"datum": 1}}},
   {"mark": {"type": "text", "style": "ts", "text": "pred", "dx": -31, "dy": -49}, "encoding": {"x": {"datum": 0}, "y": {"datum": 1}}},
   {"mark": {"type": "text", "style": "ts", "text": "SD", "dx": -38, "dy": -28}, "encoding": {"x": {"datum": 0}, "y": {"datum": 1}}},
   {"mark": {"type": "text", "style": "tt", "text": "/", "dx": -3, "dy": -42, "fontSize": 18}, "encoding": {"x": {"datum": 0}, "y": {"datum": 1}}},
   {"mark": {"type": "text", "style": "tt", "text": "δ", "dx": 21, "dy": -42}, "encoding": {"x": {"datum": 0}, "y": {"datum": 1}}},
   {"mark": {"type": "text", "style": "ts", "text": "exp", "dx": 31, "dy": -49}, "encoding": {"x": {"datum": 0}, "y": {"datum": 1}}},
   {"mark": {"type": "text", "style": "ts", "text": "SD", "dx": 31, "dy": -28}, "encoding": {"x": {"datum": 0}, "y": {"datum": 1}}}
  ]},
  {"width": 306, "height": 307, "data": {"values": [{}]}, "layer": [
   {"mark": {"type": "rule", "color": "#333", "strokeWidth": 1.3}, "encoding": {"y": {"datum": 1, "type": "quantitative", "scale": {"type": "log", "domain": [0.1, 10], "nice": false}, "axis": {"values": [0.1,0.2,0.3,0.4,0.5,0.6,0.7,0.8,0.9,1,2,3,4,5,6,7,8,9,10], "labelExpr": "datum.value==0.1?'0.1':datum.value==1?'1':datum.value==10?'10':''", "labelFont": "Liberation Serif", "title": null}}}},
   {"data": {"name": "crv"}, "transform": [{"filter": "datum.p=='d'"}], "mark": {"type": "line", "interpolate": "catmull-rom", "strokeWidth": 1.2, "color": "#111"}, "encoding": {"x": {"field": "x", "type": "quantitative", "title": null, "scale": {"domain": [0, 6], "nice": false, "zero": false}, "axis": {"values": [0.81, 3.62], "labelExpr": "datum.value<2?'Shear & Hybrid':'Flexural'", "labelFont": "Liberation Serif", "title": null}}, "y": {"field": "y", "type": "quantitative", "title": null}, "detail": {"field": "s"}, "strokeDash": {"field": "c", "type": "nominal", "scale": {"domain": ["AD", "E"], "range": [[1, 0], [6, 4]]}, "legend": null}, "order": {"field": "y", "type": "quantitative"}}},
   {"data": {"name": "pts"}, "transform": [{"filter": "datum.p=='d'"}], "mark": {"type": "circle", "size": 20, "opacity": 1}, "encoding": {"x": {"field": "x", "type": "quantitative", "title": null}, "y": {"field": "y", "type": "quantitative", "title": null}, "color": {"field": "g", "type": "nominal", "scale": {"domain": ["A","B","C","D","E"], "range": ["#E4462B","#1F52B0","#7DBFEC","#1E9E46","#9A9A9A"]}, "legend": null}}},
   {"mark": {"type": "text", "style": "lt", "text": "d)", "dx": -46, "dy": 8}, "encoding": {"x": {"datum": 0}, "y": {"datum": 10}}},
   {"mark": {"type": "text", "style": "tt", "text": "δ", "dx": -56, "dy": -37}, "encoding": {"x": {"datum": 0}, "y": {"datum": 1}}},
   {"mark": {"type": "text", "style": "ts", "text": "pred", "dx": -38, "dy": -47}, "encoding": {"x": {"datum": 0}, "y": {"datum": 1}}},
   {"mark": {"type": "text", "style": "ts", "text": "max", "dx": -43, "dy": -27}, "encoding": {"x": {"datum": 0}, "y": {"datum": 1}}},
   {"mark": {"type": "text", "style": "tt", "text": "/", "dx": -4, "dy": -37, "fontSize": 18}, "encoding": {"x": {"datum": 0}, "y": {"datum": 1}}},
   {"mark": {"type": "text", "style": "tt", "text": "δ", "dx": 11, "dy": -37}, "encoding": {"x": {"datum": 0}, "y": {"datum": 1}}},
   {"mark": {"type": "text", "style": "ts", "text": "exp", "dx": 32, "dy": -47}, "encoding": {"x": {"datum": 0}, "y": {"datum": 1}}},
   {"mark": {"type": "text", "style": "ts", "text": "max", "dx": 27, "dy": -27}, "encoding": {"x": {"datum": 0}, "y": {"datum": 1}}}
  ]},
  {"width": 306, "height": 307, "data": {"values": [{}]}, "layer": [
   {"mark": {"type": "rule", "color": "#333", "strokeWidth": 1.3}, "encoding": {"y": {"datum": 1, "type": "quantitative", "scale": {"type": "log", "domain": [0.1, 10], "nice": false}, "axis": {"values": [0.1,0.2,0.3,0.4,0.5,0.6,0.7,0.8,0.9,1,2,3,4,5,6,7,8,9,10], "labelExpr": "datum.value==0.1?'0.1':datum.value==1?'1':datum.value==10?'10':''", "labelFont": "Liberation Serif", "title": null}}}},
   {"data": {"name": "crv"}, "transform": [{"filter": "datum.p=='e'"}], "mark": {"type": "line", "interpolate": "catmull-rom", "strokeWidth": 1.2, "color": "#111"}, "encoding": {"x": {"field": "x", "type": "quantitative", "title": null, "scale": {"domain": [0, 6], "nice": false, "zero": false}, "axis": {"values": [1.01, 3.81], "labelExpr": "datum.value<2?'Shear & Hybrid':'Flexural'", "labelFont": "Liberation Serif", "title": null}}, "y": {"field": "y", "type": "quantitative", "title": null}, "detail": {"field": "s"}, "strokeDash": {"field": "c", "type": "nominal", "scale": {"domain": ["AD", "E"], "range": [[1, 0], [6, 4]]}, "legend": null}, "order": {"field": "y", "type": "quantitative"}}},
   {"data": {"name": "pts"}, "transform": [{"filter": "datum.p=='e'"}], "mark": {"type": "circle", "size": 20, "opacity": 1}, "encoding": {"x": {"field": "x", "type": "quantitative", "title": null}, "y": {"field": "y", "type": "quantitative", "title": null}, "color": {"field": "g", "type": "nominal", "scale": {"domain": ["A","B","C","D","E"], "range": ["#E4462B","#1F52B0","#7DBFEC","#1E9E46","#9A9A9A"]}, "legend": null}}},
   {"mark": {"type": "text", "style": "lt", "text": "e)", "dx": -46, "dy": 8}, "encoding": {"x": {"datum": 0}, "y": {"datum": 10}}},
   {"mark": {"type": "text", "style": "tt", "text": "δ", "dx": -55, "dy": -39}, "encoding": {"x": {"datum": 0}, "y": {"datum": 1}}},
   {"mark": {"type": "text", "style": "ts", "text": "pred", "dx": -39, "dy": -50}, "encoding": {"x": {"datum": 0}, "y": {"datum": 1}}},
   {"mark": {"type": "text", "style": "ts", "text": "u", "dx": -42, "dy": -29}, "encoding": {"x": {"datum": 0}, "y": {"datum": 1}}},
   {"mark": {"type": "text", "style": "tt", "text": "/", "dx": -4, "dy": -39, "fontSize": 18}, "encoding": {"x": {"datum": 0}, "y": {"datum": 1}}},
   {"mark": {"type": "text", "style": "tt", "text": "δ", "dx": 18, "dy": -39}, "encoding": {"x": {"datum": 0}, "y": {"datum": 1}}},
   {"mark": {"type": "text", "style": "ts", "text": "exp", "dx": 30, "dy": -50}, "encoding": {"x": {"datum": 0}, "y": {"datum": 1}}},
   {"mark": {"type": "text", "style": "ts", "text": "u", "dx": 23, "dy": -29}, "encoding": {"x": {"datum": 0}, "y": {"datum": 1}}}
  ]},
  {"width": 306, "height": 307, "data": {"values": [{}]}, "layer": [
   {"mark": {"type": "rule", "color": "#333", "strokeWidth": 1.3}, "encoding": {"y": {"datum": 1, "type": "quantitative", "scale": {"type": "log", "domain": [0.1, 10], "nice": false}, "axis": {"values": [0.1,0.2,0.3,0.4,0.5,0.6,0.7,0.8,0.9,1,2,3,4,5,6,7,8,9,10], "labelExpr": "datum.value==0.1?'0.1':datum.value==1?'1':datum.value==10?'10':''", "labelFont": "Liberation Serif", "title": null}}}},
   {"data": {"name": "crv"}, "transform": [{"filter": "datum.p=='f'"}], "mark": {"type": "line", "interpolate": "catmull-rom", "strokeWidth": 1.2, "color": "#111"}, "encoding": {"x": {"field": "x", "type": "quantitative", "title": null, "scale": {"domain": [0, 6], "nice": false, "zero": false}, "axis": {"values": [1.12, 3.94], "labelExpr": "datum.value<2?'Shear & Hybrid':'Flexural'", "labelFont": "Liberation Serif", "title": null}}, "y": {"field": "y", "type": "quantitative", "title": null}, "detail": {"field": "s"}, "strokeDash": {"field": "c", "type": "nominal", "scale": {"domain": ["AD", "E"], "range": [[1, 0], [6, 4]]}, "legend": null}, "order": {"field": "y", "type": "quantitative"}}},
   {"data": {"name": "pts"}, "transform": [{"filter": "datum.p=='f'"}], "mark": {"type": "circle", "size": 20, "opacity": 1}, "encoding": {"x": {"field": "x", "type": "quantitative", "title": null}, "y": {"field": "y", "type": "quantitative", "title": null}, "color": {"field": "g", "type": "nominal", "scale": {"domain": ["A","B","C","D","E"], "range": ["#E4462B","#1F52B0","#7DBFEC","#1E9E46","#9A9A9A"]}, "legend": null}}},
   {"mark": {"type": "text", "style": "lt", "text": "f)", "dx": -46, "dy": 8}, "encoding": {"x": {"datum": 0}, "y": {"datum": 10}}},
   {"mark": {"type": "text", "style": "tt", "text": "δ", "dx": -57, "dy": -42}, "encoding": {"x": {"datum": 0}, "y": {"datum": 1}}},
   {"mark": {"type": "text", "style": "ts", "text": "pred", "dx": -39, "dy": -52}, "encoding": {"x": {"datum": 0}, "y": {"datum": 1}}},
   {"mark": {"type": "text", "style": "ts", "text": "c", "dx": -47, "dy": -32}, "encoding": {"x": {"datum": 0}, "y": {"datum": 1}}},
   {"mark": {"type": "text", "style": "tt", "text": "/", "dx": -3, "dy": -42, "fontSize": 18}, "encoding": {"x": {"datum": 0}, "y": {"datum": 1}}},
   {"mark": {"type": "text", "style": "tt", "text": "δ", "dx": 16, "dy": -42}, "encoding": {"x": {"datum": 0}, "y": {"datum": 1}}},
   {"mark": {"type": "text", "style": "ts", "text": "exp", "dx": 30, "dy": -52}, "encoding": {"x": {"datum": 0}, "y": {"datum": 1}}},
   {"mark": {"type": "text", "style": "ts", "text": "c", "dx": 26, "dy": -32}, "encoding": {"x": {"datum": 0}, "y": {"datum": 1}}}
  ]}
]
}
